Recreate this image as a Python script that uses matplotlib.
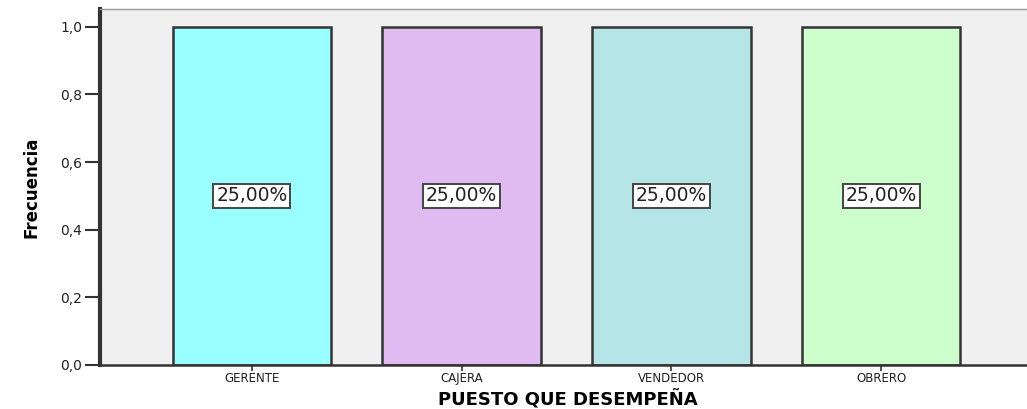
import matplotlib
matplotlib.use('Agg')
import matplotlib.pyplot as plt

puestos = ["GERENTE", "CAJERA", "VENDEDOR", "OBRERO"]
frecuencia = [1, 1, 1, 1]
porcentaje = [25.00, 25.00, 25.00, 25.00]
colores = ["#99ffff", "#dfbbf2", "#b5e5e6", "#ccffcc"]

fig = plt.figure(figsize=(10.27, 4.09), dpi=100)
ax = fig.add_axes([0.0974, 0.108, 0.9026, 0.87])
ax.set_facecolor("#f0f0f0")

x = list(range(len(puestos)))
ax.bar(x, frecuencia, width=0.755, color=colores, edgecolor="#333333", linewidth=1.8, zorder=2)

for i in x:
    txt = ("%.2f%%" % porcentaje[i]).replace(".", ",")
    ax.text(i, frecuencia[i] / 2, txt, ha="center", va="center", fontsize=13.5,
            color="#222222", zorder=3,
            bbox=dict(boxstyle="square,pad=0.15", facecolor="white", edgecolor="#444444", linewidth=1.4))

ax.set_xlim(-0.724, 3.695)
ax.set_ylim(0, 1.053)
ax.set_yticks([0, 0.2, 0.4, 0.6, 0.8, 1.0])
ax.set_yticklabels(["0,0", "0,2", "0,4", "0,6", "0,8", "1,0"], fontsize=10, color="#222222")
ax.set_xticks(x)
ax.set_xticklabels(puestos, fontsize=8.5, color="#222222")
ax.tick_params(axis="y", length=11, width=1.5, color="#333333", pad=2)
ax.tick_params(axis="x", length=4, width=1.2, color="#333333", pad=1)

ax.spines["left"].set_linewidth(3)
ax.spines["left"].set_color("#333333")
ax.spines["bottom"].set_linewidth(1.8)
ax.spines["bottom"].set_color("#333333")
ax.spines["top"].set_linewidth(1)
ax.spines["top"].set_color("#999999")
ax.spines["right"].set_visible(False)

ax.set_ylabel("Frecuencia", fontsize=12, fontweight="bold",
              family="Liberation Sans Narrow", labelpad=14)
fig.text(0.553, 0.0, "PUESTO QUE DESEMPEÑA", ha="center", va="bottom",
         fontsize=13, fontweight="bold", color="black")

fig.savefig("out.png", dpi=100)
plt.close()
